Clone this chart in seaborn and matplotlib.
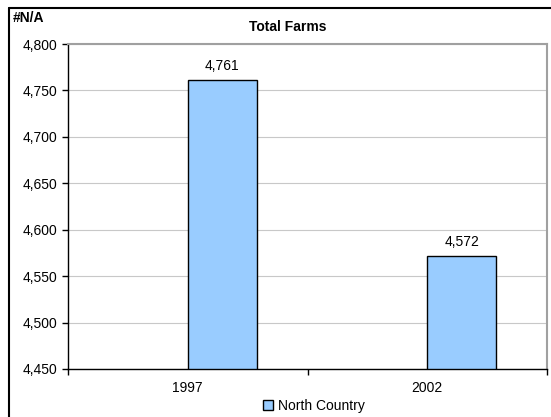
import matplotlib
matplotlib.use("Agg")
import matplotlib.pyplot as plt
from matplotlib.lines import Line2D
from matplotlib.patches import Patch
from matplotlib.ticker import FuncFormatter, FixedLocator
import seaborn as sns
import pandas as pd
import numpy as np

# Data
years = ["1997", "2002"]
series_names = ["#N/A", "North Country"]
na_values = [np.nan, np.nan]
north_country = [4761, 4572]
y_ticks = [4450, 4500, 4550, 4600, 4650, 4700, 4750, 4800]

df = pd.DataFrame({
    "Year": years * 2,
    "Series": [series_names[0]] * 2 + [series_names[1]] * 2,
    "Farms": na_values + north_country,
})

sns.set_style("white")
plt.rcParams["font.family"] = ["Liberation Sans", "DejaVu Sans"]
plt.rcParams["text.color"] = "black"
plt.rcParams["xtick.color"] = "black"
plt.rcParams["ytick.color"] = "black"

FS = 10

W, H = 551, 417
fig = plt.figure(figsize=(W / 100, H / 100), dpi=100)

# plot area in pixel coordinates
left, right, top, bottom = 68, 547, 44, 369
ax = fig.add_axes([left / W, 1 - bottom / H, (right - left) / W, (bottom - top) / H])

palette = {"#N/A": "#9999FF", "North Country": "#99CCFF"}
sns.barplot(data=df, x="Year", y="Farms", hue="Series", hue_order=series_names,
            order=years, palette=palette, width=0.576, dodge=True, gap=0,
            edgecolor="black", linewidth=1.0, saturation=1, legend=False, ax=ax,
            errorbar=None)

ax.set_ylim(4450, 4800)
ax.set_xlim(-0.5, 1.5)
ax.yaxis.set_major_locator(FixedLocator(y_ticks))
ax.yaxis.set_major_formatter(FuncFormatter(lambda v, p: f"{v:,.0f}"))
ax.grid(axis="y", color="#c8c8c8", linewidth=0.8)
ax.set_axisbelow(True)

# category boundary ticks, labels centred on categories
ax.set_xticks([-0.5, 0.5, 1.5])
ax.set_xticklabels([])
ax.set_xticks([0, 1], minor=True)
ax.set_xticklabels(years, minor=True)
ax.tick_params(axis="x", which="major", direction="out", length=4, width=1, color="black")
ax.tick_params(axis="x", which="minor", length=0, pad=9, labelsize=FS)
ax.tick_params(axis="y", direction="out", length=4, width=1, color="black", pad=4, labelsize=FS)
ax.tick_params(left=True, bottom=True)
ax.set_xlabel("")
ax.set_ylabel("")

for s in ["left", "bottom"]:
    ax.spines[s].set_color("black")
    ax.spines[s].set_linewidth(1.0)
for s in ["top", "right"]:
    ax.spines[s].set_visible(True)
    ax.spines[s].set_color("#a0a0a0")
    ax.spines[s].set_linewidth(1.5)

# value labels on the North Country bars
cont = ax.containers[-1]
ax.bar_label(cont, labels=[f"{v:,.0f}" for v in north_country], padding=5, fontsize=FS)

# title and axis caption
fig.text(288 / W, 1 - 27 / H, "Total Farms", ha="center", va="center",
         fontsize=FS, fontweight="bold")
fig.text(13 / W, 1 - 18 / H, "#N/A", ha="left", va="center", fontsize=FS, fontweight="bold")

# legend
handle = Patch(facecolor="#99CCFF", edgecolor="black", linewidth=1.0)
fig.legend(handles=[handle], labels=["North Country"], loc="center",
           bbox_to_anchor=(314 / W, 1 - 406 / H), frameon=False, fontsize=FS,
           handlelength=0.7, handleheight=0.7, handletextpad=0.4, borderpad=0)

# outer chart frame
fig.add_artist(Line2D([9 / W, 9 / W], [-0.1, 1 - 8 / H], color="black", lw=1.5,
                      transform=fig.transFigure))
fig.add_artist(Line2D([9 / W, 1.1], [1 - 8 / H, 1 - 8 / H], color="black", lw=1.5,
                      transform=fig.transFigure))

fig.savefig("out.png", dpi=100, facecolor="white")
